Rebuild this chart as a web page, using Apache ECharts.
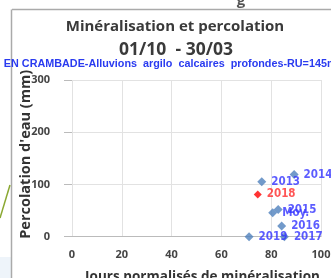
<!DOCTYPE html>
<html><head><meta charset="utf-8">
<script src="https://cdn.jsdelivr.net/npm/echarts@6/dist/echarts.min.js"></script>
<style>html,body{margin:0;padding:0;background:#fff}#c{width:331px;height:278px}</style>
</head><body><div id="c"></div>
<script>
const years = ['2014','2013','2015','Moy.','2016','2019','2017'];
const joursMin = [89.2, 76.2, 82.8, 80.6, 84.2, 71.1, 85.3];
const percolation = [119, 105, 52, 46, 20.5, 0, 0];
const redYears = ['2018'];
const redJours = [74.6];
const redPerco = [81];
const xTicks = [0, 20, 40, 60, 80, 100];
const yTicks = [0, 100, 200, 300];

const chart = echarts.init(document.getElementById('c'), null, {renderer:'canvas'});
const lbl = (c) => ({show:true, position:'right', distance:5, formatter: p => p.value[2], color:c, fontSize:11.5, fontWeight:'bold', fontFamily:'DejaVu Sans Condensed, Liberation Sans'});
chart.setOption({
  animation:false,
  backgroundColor:'#fff',
  title:[
    {text:'Minéralisation et percolation', left:170, top:14, textAlign:'center', textStyle:{fontSize:15, fontWeight:'bold', color:'#3a3a3a', fontFamily:'Open Sans'}},
    {text:'01/10  - 30/03', left:171, top:36, textAlign:'center', textStyle:{fontSize:17.5, fontWeight:'bold', color:'#3a3a3a', fontFamily:'Open Sans'}},
    {text:'EN CRAMBADE-Alluvions  argilo  calcaires  profondes-RU=145mm', left:170, top:54, textAlign:'center', textStyle:{fontSize:10.8, fontWeight:'bold', color:'#2a3bf0', fontFamily:'Liberation Sans'}},
    {text:'g', left:236, top:-12, textAlign:'center', textStyle:{fontSize:15, fontWeight:'bold', color:'#555', fontFamily:'Open Sans'}}
  ],
  grid:{left:72, right:10, top:80, bottom:41.3, outerBoundsMode:'none', containLabel:false},
  xAxis:{type:'value', min:xTicks[0], max:xTicks[xTicks.length-1], interval:20,
    name:'Jours normalisés de minéralisation', nameLocation:'middle', nameGap:33, nameMoveOverlap:false,
    nameTextStyle:{fontSize:13.5, fontWeight:'bold', color:'#333', fontFamily:'Open Sans', padding:[0,0,0,12]},
    axisLine:{show:true, lineStyle:{color:'#bbb'}}, axisTick:{show:false},
    axisLabel:{margin:13, fontSize:11, fontWeight:'bold', color:'#444', fontFamily:'Open Sans'},
    splitLine:{show:true, lineStyle:{color:'#e2e2e2'}}},
  yAxis:{type:'value', min:yTicks[0], max:yTicks[yTicks.length-1], interval:100,
    name:"Percolation d'eau (mm)", nameLocation:'middle', nameGap:39, nameMoveOverlap:false,
    nameTextStyle:{fontSize:14.5, fontWeight:'bold', color:'#333', fontFamily:'Open Sans', padding:[0,0,0,8]},
    axisLine:{show:false}, axisTick:{show:true, length:8, lineStyle:{color:'#bbb'}},
    axisLabel:{margin:22, fontSize:11, fontWeight:'bold', color:'#444', fontFamily:'Open Sans'},
    splitLine:{show:true, lineStyle:{color:'#e2e2e2'}}},
  graphic:[
    {type:'rect', shape:{x:0, y:257, width:11, height:21}, style:{fill:'#eef4fa'}},
    {type:'line', shape:{x1:12, y1:9.5, x2:331, y2:9.5}, style:{stroke:'#aaa', lineWidth:1.5}},
    {type:'line', shape:{x1:11.5, y1:9.5, x2:11.5, y2:278}, style:{stroke:'#aaa', lineWidth:1.5}},
    {type:'line', shape:{x1:10, y1:185, x2:0, y2:218}, style:{stroke:'#8aa832', lineWidth:1.5}}
  ],
  series:[
    {type:'scatter', symbol:'diamond', symbolSize:9, itemStyle:{color:'#4f81bd'},
      data: years.map((y,i)=>[joursMin[i], percolation[i], y]), label:lbl('#3333ff'), z:3},
    {type:'scatter', symbol:'diamond', symbolSize:8, itemStyle:{color:'#ff0000'},
      data: redYears.map((y,i)=>[redJours[i], redPerco[i], y]), label:lbl('#ff2a2a'), z:3}
  ]
});
</script></body></html>
